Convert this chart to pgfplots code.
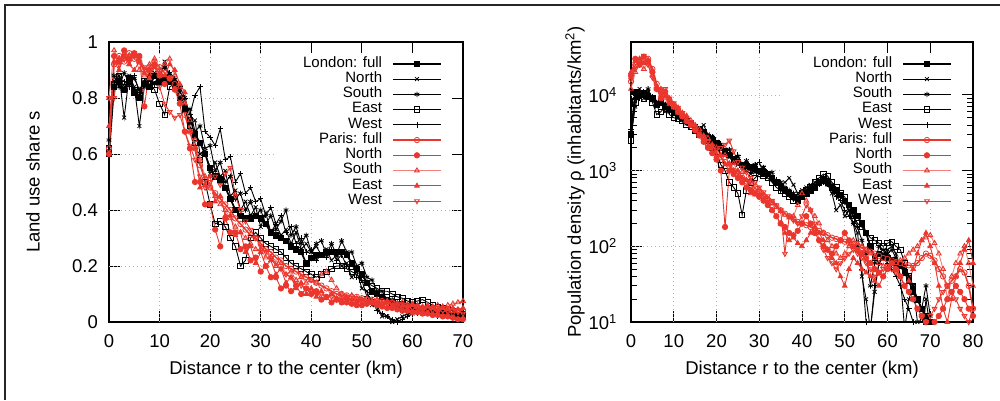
\documentclass[border=0pt]{standalone}
\usepackage{fontspec}
\setmainfont{Liberation Sans}
\usepackage{pgfplots}
\usepackage{pgfplotstable}
\pgfplotsset{compat=1.18}
\definecolor{pred}{RGB}{234,54,45}
\definecolor{ppink}{RGB}{242,130,125}

\pgfplotstableread{
r lf ln ls le lw pf pn ps pe pw
0 0.60 0.62 0.65 0.62 0.60 0.62 0.60 0.80 0.70 0.80
1 0.84 0.86 0.88 0.85 0.85 0.92 0.95 0.97 0.93 0.80
2 0.86 0.88 0.84 0.88 0.87 0.95 0.93 0.94 0.90 0.92
3 0.83 0.73 0.89 0.84 0.86 0.93 0.97 0.96 0.95 0.95
4 0.87 0.88 0.85 0.86 0.84 0.96 0.94 0.92 0.92 0.93
5 0.82 0.84 0.87 0.83 0.88 0.94 0.96 0.95 0.90 0.96
6 0.80 0.70 0.83 0.81 0.82 0.93 0.95 0.90 0.93 0.94
7 0.85 0.84 0.86 0.86 0.86 0.90 0.77 0.88 0.89 0.91
8 0.84 0.86 0.88 0.85 0.87 0.91 0.90 0.92 0.87 0.88
9 0.88 0.89 0.85 0.83 0.85 0.93 0.92 0.94 0.91 0.92
10 0.86 0.87 0.89 0.78 0.88 0.91 0.88 0.90 0.89 0.84
11 0.87 0.93 0.91 0.74 0.87 0.89 0.85 0.92 0.88 0.78
12 0.86 0.88 0.88 0.84 0.89 0.87 0.87 0.94 0.92 0.75
13 0.84 0.85 0.86 0.85 0.87 0.85 0.83 0.88 0.90 0.73
14 0.80 0.82 0.83 0.80 0.84 0.80 0.78 0.84 0.85 0.74
15 0.76 0.80 0.77 0.76 0.80 0.74 0.68 0.78 0.82 0.68
16 0.72 0.71 0.76 0.70 0.74 0.68 0.62 0.72 0.68 0.63
17 0.67 0.72 0.68 0.64 0.81 0.62 0.50 0.65 0.62 0.58
18 0.64 0.60 0.70 0.58 0.84 0.56 0.50 0.58 0.48 0.52
19 0.60 0.61 0.62 0.50 0.68 0.51 0.42 0.52 0.49 0.48
20 0.55 0.53 0.63 0.42 0.66 0.48 0.42 0.48 0.52 0.50
21 0.52 0.57 0.54 0.35 0.63 0.46 0.33 0.45 0.43 0.52
22 0.51 0.52 0.57 0.36 0.69 0.44 0.27 0.42 0.45 0.49
23 0.48 0.54 0.50 0.34 0.58 0.42 0.37 0.40 0.38 0.53
24 0.44 0.45 0.52 0.30 0.59 0.40 0.32 0.37 0.38 0.55
25 0.40 0.47 0.44 0.27 0.50 0.37 0.32 0.34 0.31 0.45
26 0.38 0.40 0.46 0.20 0.53 0.35 0.26 0.32 0.32 0.40
27 0.37 0.43 0.40 0.22 0.46 0.33 0.27 0.30 0.25 0.36
28 0.37 0.38 0.43 0.30 0.48 0.31 0.22 0.28 0.27 0.33
29 0.38 0.41 0.38 0.32 0.43 0.30 0.23 0.26 0.21 0.30
30 0.37 0.34 0.40 0.30 0.44 0.28 0.18 0.26 0.25 0.27
31 0.35 0.39 0.35 0.28 0.38 0.26 0.20 0.23 0.20 0.25
32 0.32 0.32 0.38 0.27 0.41 0.25 0.16 0.23 0.22 0.23
33 0.31 0.35 0.33 0.26 0.35 0.23 0.16 0.20 0.17 0.21
34 0.30 0.31 0.36 0.25 0.38 0.22 0.12 0.21 0.19 0.19
35 0.29 0.33 0.40 0.23 0.32 0.20 0.13 0.17 0.14 0.17
36 0.27 0.28 0.31 0.21 0.34 0.19 0.11 0.18 0.16 0.16
37 0.26 0.32 0.34 0.20 0.28 0.18 0.13 0.15 0.12 0.14
38 0.25 0.26 0.28 0.19 0.30 0.17 0.10 0.16 0.14 0.13
39 0.21 0.28 0.31 0.18 0.25 0.16 0.12 0.14 0.10 0.12
40 0.23 0.25 0.25 0.17 0.26 0.15 0.10 0.15 0.12 0.11
41 0.24 0.27 0.28 0.16 0.22 0.14 0.11 0.14 0.09 0.10
42 0.24 0.24 0.29 0.17 0.24 0.13 0.08 0.17 0.11 0.10
43 0.25 0.26 0.24 0.18 0.23 0.12 0.09 0.18 0.085 0.09
44 0.25 0.22 0.28 0.19 0.26 0.11 0.07 0.15 0.10 0.09
45 0.25 0.24 0.24 0.20 0.22 0.10 0.08 0.12 0.085 0.08
46 0.25 0.20 0.29 0.20 0.24 0.10 0.07 0.10 0.08 0.085
47 0.24 0.21 0.25 0.19 0.20 0.095 0.07 0.09 0.085 0.08
48 0.21 0.16 0.25 0.18 0.21 0.09 0.065 0.095 0.08 0.08
49 0.19 0.18 0.20 0.17 0.16 0.09 0.06 0.085 0.075 0.075
50 0.17 0.12 0.21 0.15 0.15 0.085 0.06 0.08 0.08 0.07
51 0.14 0.11 0.16 0.14 0.09 0.08 0.065 0.085 0.07 0.075
52 0.11 0.06 0.15 0.13 0.08 0.08 0.07 0.075 0.075 0.07
53 0.10 0.06 0.11 0.12 0.04 0.075 0.06 0.08 0.07 0.065
54 0.09 0.02 0.11 0.11 0.03 0.075 0.055 0.07 0.065 0.06
55 0.08 0.02 0.08 0.11 0.02 0.07 0.05 0.075 0.07 0.065
56 0.07 0.00 0.08 0.10 0.01 0.07 0.05 0.07 0.06 0.06
57 0.065 0.01 0.07 0.09 0.00 0.065 0.045 0.065 0.065 0.055
58 0.06 0.02 0.065 0.085 0.01 0.06 0.04 0.07 0.06 0.05
59 0.055 0.03 0.06 0.075 0.02 0.06 0.04 0.06 0.055 0.055
60 0.05 0.03 0.055 0.07 0.03 0.055 0.035 0.065 0.06 0.05
61 0.045 0.04 0.05 0.075 0.03 0.055 0.035 0.06 0.055 0.045
62 0.045 0.03 0.05 0.08 0.04 0.05 0.03 0.055 0.05 0.04
63 0.04 0.04 0.045 0.07 0.03 0.05 0.03 0.06 0.055 0.045
64 0.04 0.03 0.04 0.06 0.03 0.048 0.025 0.055 0.05 0.04
65 0.035 0.03 0.04 0.055 0.02 0.046 0.025 0.06 0.045 0.035
66 0.03 0.02 0.035 0.05 0.03 0.045 0.02 0.055 0.05 0.04
67 0.03 0.03 0.03 0.045 0.02 0.044 0.02 0.06 0.045 0.035
68 0.025 0.02 0.03 0.04 0.02 0.043 0.015 0.065 0.05 0.03
69 0.02 0.02 0.025 0.035 0.01 0.042 0.01 0.07 0.045 0.035
70 0.02 0.02 0.02 0.03 0.02 0.04 0.01 0.075 0.05 0.03
}\landuse

\pgfplotstableread{
r rf rn rs re rw qf qn qs qe qw
0 3000 3000 3000 2500 3500 15000 18000 12000 20000 16000
1 11000 7000 9000 8000 10000 25000 30000 20000 28000 22000
2 10000 12000 11000 10000 9000 27000 25000 25000 30000 28000
3 10500 9000 10000 9000 11000 28000 32000 22000 26000 33000
4 9500 11000 12000 9500 10000 30000 28000 26000 29000 25000
5 9000 8500 9000 8000 9500 22000 20000 18000 21000 17000
6 7500 7000 8000 5500 8000 14000 12000 12000 13000 12000
7 8000 8000 8500 6000 9000 11000 9000 10000 12000 10500
8 7000 6000 7500 7000 7500 10000 11000 9000 9500 12000
9 6500 6500 6000 5500 7000 8500 8000 7500 9000 9000
10 6000 5500 5800 5000 6200 7500 7000 7500 6800 7800
11 5500 5000 5200 4800 5600 6500 6000 5800 6800 6800
12 5000 4800 4600 4500 5000 5500 5200 5800 5200 5800
13 4500 4200 4300 4000 4600 4800 4500 4500 5300 5000
14 4200 3800 4000 3800 4200 4200 4000 4600 4000 4400
15 3800 3500 3800 3400 3800 3600 3400 3600 4000 3800
16 3500 3600 3000 3000 3300 3000 2900 3500 2900 3300
17 3200 4000 3300 2800 3300 2600 2400 2700 2900 2800
18 2800 3000 2400 2500 2600 2200 2000 2700 2100 2400
19 2500 2800 2700 2000 2800 1900 1700 2000 2200 2100
20 2300 2400 2000 1800 2100 1700 1400 2000 1550 1900
21 2000 2000 2200 1200 2300 1500 1000 1600 1600 2000
22 1800 1900 1700 1000 1800 1300 180 1600 1200 2200
23 1600 1500 1900 700 1900 1150 1000 1200 1250 2500
24 1400 1300 1350 600 1400 1000 900 1250 1000 1800
25 1300 1200 1550 500 1600 900 800 950 1000 1300
26 1200 1100 1200 260 1200 800 700 950 800 1100
27 1150 1000 1350 550 1300 720 600 750 750 950
28 1100 900 1050 700 950 650 550 720 500 800
29 1050 950 1200 800 1200 580 500 560 480 700
30 1000 1000 950 900 1300 520 450 560 480 600
31 950 1100 1100 850 900 460 400 480 420 520
32 900 900 850 800 950 420 350 420 380 460
33 800 800 950 700 750 380 300 370 300 400
34 700 700 700 600 750 340 250 330 250 350
35 600 650 700 550 550 300 200 290 200 300
36 550 700 600 500 550 270 180 260 150 80
37 500 800 550 450 500 250 150 240 120 250
38 450 650 500 400 420 230 140 250 130 220
39 400 500 450 450 380 210 160 350 110 200
40 450 550 500 500 450 200 200 500 100 250
41 500 600 550 550 500 190 250 400 120 350
42 550 650 600 600 550 180 200 300 150 300
43 600 700 650 700 600 170 150 250 180 200
44 700 750 700 800 650 160 120 200 150 120
45 750 700 800 900 700 150 100 150 120 90
46 700 650 750 850 650 140 90 120 90 70
47 600 500 650 700 550 130 80 100 70 60
48 550 300 550 600 450 125 100 80 60 50
49 480 350 450 500 400 120 120 70 40 60
50 400 250 380 450 300 115 150 80 30 70
51 350 300 300 350 250 110 120 100 50 80
52 300 200 250 250 200 105 100 120 70 90
53 250 150 180 200 100 100 90 110 60 80
54 200 40 120 180 50 95 80 100 50 70
55 150 20 80 150 10 90 70 90 45 60
56 100 8 30 130 8 85 60 80 40 50
57 70 25 60 120 30 80 50 70 35 40
58 80 60 100 110 60 75 45 60 30 45
59 75 80 90 100 70 70 40 55 40 50
60 70 90 80 110 60 68 50 50 50 55
61 65 100 90 115 50 65 60 55 60 50
62 60 80 70 100 40 62 50 60 50 45
63 55 40 60 90 30 60 40 65 40 40
64 45 8 50 60 20 58 30 70 30 30
65 35 20 40 40 15 56 25 80 35 25
66 25 30 30 30 10 55 20 90 50 20
67 20 10 20 20 8 60 15 100 80 15
68 15 5 15 15 12 70 12 120 120 12
69 12 20 30 10 5 80 10 130 150 10
70 10 8 12 8 5 75 8 140 100 12
71 nan nan nan nan nan 65 10 110 60 15
72 nan nan nan nan nan 50 12 80 30 20
73 nan nan nan nan nan 40 15 50 15 25
74 nan nan nan nan nan 30 20 20 10 30
75 nan nan nan nan nan 35 25 40 20 25
76 nan nan nan nan nan 40 30 60 40 20
77 nan nan nan nan nan 50 25 80 60 15
78 nan nan nan nan nan 45 20 100 90 12
79 nan nan nan nan nan 30 15 60 120 10
80 nan nan nan nan nan 15 12 30 60 15
}\density

\tikzset{mygrid/.style={gray!60, line width=0.8pt, dash pattern=on 1pt off 3pt}}
\pgfplotsset{
  common/.style={
    scale only axis,
    axis line style={line width=1.6pt},
    tick align=inside,
    major tick length=11pt, minor tick length=6pt,
    tick style={black, line width=0.9pt},
    /pgf/number format/assume math mode=true,
    tick label style={font=\fontsize{18.5}{20}\selectfont},
    label style={font=\fontsize{18.5}{20}\selectfont},
    yticklabel style={inner sep=0pt, xshift=-11pt},
    xticklabel style={inner sep=0pt, yshift=-12pt},
    xlabel style={at={(axis description cs:0.5,-0.1714)}, anchor=center},
    legend plot pos=right,
    legend cell align=right,
    legend style={at={(1,1)}, anchor=north east, xshift=-21pt, yshift=-8pt,
      fill=none, draw=none, inner xsep=0pt, inner ysep=6pt,
      column sep=10pt, row sep=0pt,
      font=\fontsize{15}{15}\selectfont,
      nodes={inner ysep=0pt, inner xsep=0pt, text height=11pt, text depth=4.25pt}},
    legend image code/.code={\draw[mark repeat=2,mark phase=2] plot coordinates {(0pt,0pt) (24pt,0pt) (48pt,0pt)};},
  },
  lon/.style={black, line width=0.9pt, mark size=2.7pt, mark options={solid, line width=0.8pt}},
  lonfull/.style={black, line width=1.7pt, mark size=2.7pt, mark options={solid, line width=0.8pt}},
  par/.style={pred, line width=0.9pt, mark size=2.7pt, mark options={solid, line width=0.8pt}},
  parfull/.style={pred, line width=1.5pt, mark size=2.7pt, mark options={solid, line width=0.8pt}},
}
\newcommand{\lgent}[1]{\addlegendentry{\makebox[112pt][r]{#1}}}

\begin{document}
\begin{tikzpicture}
\useasboundingbox (0,0) rectangle (1000pt,400pt);
\draw[line width=2pt, black!85] (5pt,0pt) -- (5pt,395pt) -- (1000pt,395pt);

\begin{axis}[common,
  at={(109pt,78pt)}, anchor=south west, width=354pt, height=280pt,
  xmin=0, xmax=70, ymin=0, ymax=1,
  xtick={0,10,...,70}, ytick={0,0.2,0.4,0.6,0.8,1},
  xlabel={Distance r to the center (km)},
  ylabel={Land use share s},
  ylabel style={at={(axis description cs:-0.2147,0.5)}, anchor=center},
]
\draw[mygrid] (axis cs:10,0) -- (axis cs:10,1);
\draw[mygrid] (axis cs:20,0) -- (axis cs:20,1);
\draw[mygrid] (axis cs:30,0) -- (axis cs:30,1);
\draw[mygrid] (axis cs:40,0) -- (axis cs:40,0.41);
\draw[mygrid] (axis cs:50,0) -- (axis cs:50,0.41);
\draw[mygrid] (axis cs:60,0) -- (axis cs:60,0.41);
\draw[mygrid] (axis cs:0,0.2) -- (axis cs:70,0.2);
\draw[mygrid] (axis cs:0,0.4) -- (axis cs:70,0.4);
\draw[mygrid] (axis cs:0,0.6) -- (axis cs:32.6,0.6);
\draw[mygrid] (axis cs:0,0.8) -- (axis cs:32.6,0.8);
\addplot[lonfull, mark=square*] table[x=r,y=lf]{\landuse}; \lgent{London: full}
\addplot[lon, mark=x] table[x=r,y=ln]{\landuse}; \lgent{North}
\addplot[lon, mark=asterisk] table[x=r,y=ls]{\landuse}; \lgent{South}
\addplot[lon, mark=square] table[x=r,y=le]{\landuse}; \lgent{East}
\addplot[lon, mark=+] table[x=r,y=lw]{\landuse}; \lgent{West}
\addplot[parfull, mark=o] table[x=r,y=pf]{\landuse}; \lgent{Paris: full}
\addplot[par, mark=*] table[x=r,y=pn]{\landuse}; \lgent{North}
\addplot[par, ppink, mark=triangle, mark options={draw=pred}] table[x=r,y=ps]{\landuse}; \lgent{South}
\addplot[par, mark=triangle*] table[x=r,y=pe]{\landuse}; \lgent{East}
\addplot[par, mark=triangle, mark options={rotate=180}] table[x=r,y=pw]{\landuse}; \lgent{West}
\end{axis}

\begin{axis}[common, ymode=log,
  at={(631pt,78pt)}, anchor=south west, width=342pt, height=280pt,
  xmin=0, xmax=80, ymin=10, ymax=50000,
  xtick={0,10,...,80},
  ytick={10,100,1000,10000},
  yticklabels={10\textsuperscript{1},10\textsuperscript{2},10\textsuperscript{3},10\textsuperscript{4}},
  yticklabel style={xshift=-3pt},
  xlabel={Distance r to the center (km)},
  ylabel={Population density ρ (inhabitants/km\textsuperscript{2})},
  ylabel style={at={(axis description cs:-0.1637,0.5)}, anchor=center},
]
\draw[mygrid] (axis cs:10,10) -- (axis cs:10,50000);
\draw[mygrid] (axis cs:20,10) -- (axis cs:20,50000);
\draw[mygrid] (axis cs:30,10) -- (axis cs:30,50000);
\draw[mygrid] (axis cs:40,10) -- (axis cs:40,330);
\draw[mygrid] (axis cs:50,10) -- (axis cs:50,330);
\draw[mygrid] (axis cs:60,10) -- (axis cs:60,330);
\draw[mygrid] (axis cs:70,10) -- (axis cs:70,330);
\draw[mygrid] (axis cs:0,100) -- (axis cs:80,100);
\draw[mygrid] (axis cs:0,1000) -- (axis cs:35.5,1000);
\draw[mygrid] (axis cs:0,10000) -- (axis cs:35.5,10000);
\addplot[lonfull, mark=square*] table[x=r,y=rf]{\density}; \lgent{London: full}
\addplot[lon, mark=x] table[x=r,y=rn]{\density}; \lgent{North}
\addplot[lon, mark=asterisk] table[x=r,y=rs]{\density}; \lgent{South}
\addplot[lon, mark=square] table[x=r,y=re]{\density}; \lgent{East}
\addplot[lon, mark=+] table[x=r,y=rw]{\density}; \lgent{West}
\addplot[parfull, mark=o] table[x=r,y=qf]{\density}; \lgent{Paris: full}
\addplot[par, mark=*] table[x=r,y=qn]{\density}; \lgent{North}
\addplot[par, ppink, mark=triangle, mark options={draw=pred}] table[x=r,y=qs]{\density}; \lgent{South}
\addplot[par, mark=triangle*] table[x=r,y=qe]{\density}; \lgent{East}
\addplot[par, mark=triangle, mark options={rotate=180}] table[x=r,y=qw]{\density}; \lgent{West}
\end{axis}
\end{tikzpicture}
\end{document}
